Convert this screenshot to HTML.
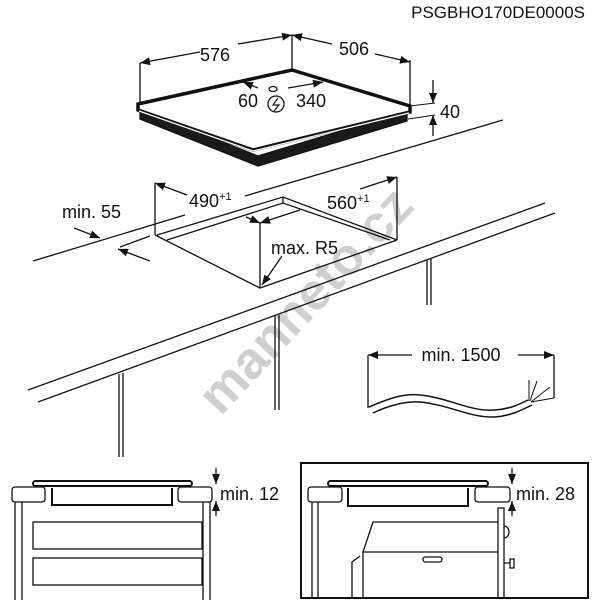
<!DOCTYPE html>
<html><head><meta charset="utf-8"><style>
html,body{margin:0;padding:0;background:#fff;}
svg{display:block;}
text{font-family:"Liberation Sans",sans-serif;fill:#111;}
</style></head><body>
<svg width="600" height="600" viewBox="0 0 600 600" xmlns="http://www.w3.org/2000/svg">
<defs>
<marker id="a" viewBox="0 0 10 10" refX="10" refY="5" markerWidth="10" markerHeight="10" orient="auto-start-reverse" markerUnits="userSpaceOnUse"><path d="M0,1 L10,5 L0,9 z" fill="#111"/></marker>
</defs>
<text x="585" y="18" font-size="17" text-anchor="end">PSGBHO170DE0000S</text>

<text x="305" y="318" font-size="52" font-weight="bold" text-anchor="middle" style="fill:#cfcfcf" transform="rotate(-47 305 300)">manneto.cz</text>

<g stroke="#111" fill="none" stroke-width="1.3">
<path d="M140,119 L258,166 L407,121 L407,111 L258,156 L140,109 Z" fill="#1a1a1a" stroke="#111"/>
<path d="M138,104 L292,70 L410,106 L410,112 L253,150 L138,110 Z" fill="#fff" stroke="#111" stroke-width="3.5"/>
<path d="M139,111 L253,151 L409,113" stroke="#fff" stroke-width="1.3"/>
<line x1="140" y1="63" x2="140" y2="104"/>
<line x1="292" y1="35" x2="292" y2="70"/>
<line x1="410" y1="60" x2="410" y2="106"/>
<line x1="200" y1="52" x2="140" y2="63" marker-end="url(#a)"/>
<line x1="238" y1="44" x2="292" y2="35" marker-end="url(#a)"/>
<line x1="332" y1="44" x2="292" y2="35" marker-end="url(#a)"/>
<line x1="375" y1="54" x2="410" y2="62" marker-end="url(#a)"/>
<line x1="258" y1="88" x2="243" y2="82" marker-end="url(#a)"/>
<line x1="288" y1="88" x2="323" y2="82" marker-end="url(#a)"/>
<ellipse cx="273" cy="89" rx="4" ry="2.5"/>
<circle cx="276" cy="104" r="8"/>
<path d="M278,98 L273,105 L279,105 L274,111" stroke-width="1.2"/>
<line x1="410" y1="106" x2="435" y2="103" stroke-width="1"/>
<line x1="408" y1="119" x2="435" y2="115" stroke-width="1"/>
<line x1="433" y1="80" x2="433" y2="103" marker-end="url(#a)"/>
<line x1="433" y1="136" x2="433" y2="115" marker-end="url(#a)"/>

<line x1="33" y1="261" x2="185" y2="215"/>
<line x1="245" y1="196" x2="503" y2="120"/>
<line x1="28" y1="390" x2="545" y2="203"/>
<line x1="38" y1="402" x2="555" y2="213"/>
<line x1="120" y1="247" x2="150" y2="236"/>
<line x1="155" y1="183" x2="155" y2="235"/>
<line x1="260" y1="223" x2="260" y2="288"/>
<line x1="397" y1="177" x2="397" y2="240"/>
<path d="M155,235 L260,288 L397,240"/>
<path d="M157,235 L283,197 L397,240"/>
<path d="M167,240 L283,203 L390,240"/>
<line x1="283" y1="197" x2="283" y2="203"/>
<line x1="187" y1="195" x2="155" y2="183" marker-end="url(#a)"/>
<line x1="246" y1="217" x2="260" y2="223" marker-end="url(#a)"/>
<line x1="300" y1="210" x2="260" y2="223" marker-end="url(#a)"/>
<line x1="360" y1="189" x2="397" y2="177" marker-end="url(#a)"/>
<line x1="282" y1="256" x2="262" y2="285" marker-end="url(#a)"/>
<line x1="74" y1="228" x2="100" y2="238" marker-end="url(#a)"/>
<line x1="150" y1="261" x2="118" y2="249" marker-end="url(#a)"/>
<line x1="119" y1="374" x2="119" y2="457"/><line x1="123" y1="373" x2="123" y2="457"/>
<line x1="275" y1="316" x2="275" y2="410"/><line x1="279" y1="315" x2="279" y2="410"/>
<line x1="427" y1="260" x2="427" y2="305"/><line x1="431" y1="259" x2="431" y2="305"/>

<line x1="368" y1="355" x2="368" y2="408"/>
<line x1="554" y1="355" x2="554" y2="398"/>
<line x1="412" y1="355" x2="368" y2="355" marker-end="url(#a)"/>
<line x1="518" y1="355" x2="554" y2="355" marker-end="url(#a)"/>
<path d="M369,407 C390,398 405,393 420,395 C450,398 470,412 495,410 C510,409 520,404 528,400" stroke-width="1.5"/>
<path d="M373,413 C390,405 405,401 420,402 C450,405 470,418 495,417 C510,416 522,410 532,405" stroke-width="1.5"/>
<path d="M529,401 L529,380 M530,401 L537,381 M531,402 L550,387 M531,402 L554,398" stroke-width="1"/>

<rect x="33" y="481" width="159" height="5" rx="2.5" stroke-width="2"/>
<rect x="12" y="487" width="33" height="15" rx="3"/>
<rect x="178" y="487" width="34" height="15" rx="3"/>
<path d="M52,488 L52,505 L172,505 L172,488" stroke-width="2"/>
<line x1="15" y1="502" x2="15" y2="600"/><line x1="22" y1="502" x2="22" y2="600"/>
<line x1="203" y1="502" x2="203" y2="600"/><line x1="210" y1="502" x2="210" y2="600"/>
<rect x="33" y="522" width="169" height="27"/>
<rect x="33" y="558" width="169" height="27"/>
<line x1="216" y1="468" x2="216" y2="484" marker-end="url(#a)"/>
<line x1="216" y1="516" x2="216" y2="501" marker-end="url(#a)"/>

<rect x="301" y="463" width="287" height="135" stroke-width="2"/>
<rect x="328" y="481" width="160" height="5" rx="2.5" stroke-width="2"/>
<rect x="308" y="487" width="34" height="15" rx="3"/>
<rect x="475" y="487" width="35" height="15" rx="3"/>
<path d="M348,488 L348,506 L468,506 L468,488" stroke-width="2"/>
<line x1="312" y1="502" x2="312" y2="598"/><line x1="318" y1="502" x2="318" y2="598"/>
<path d="M498,522 L373,522 L363,552 L498,552"/>
<path d="M363,552 L363,598"/>
<path d="M360,556 L352,562 L352,598"/>
<rect x="498" y="508" width="6" height="90"/>
<path d="M504,526 A5,6 0 0 1 504,538"/>
<rect x="423" y="557" width="19" height="5" rx="2.5"/>
<path d="M504,563 L510,563 M510,559 L514,559 L514,568 L510,568 Z"/>
<line x1="512" y1="468" x2="512" y2="484" marker-end="url(#a)"/>
<line x1="512" y1="516" x2="512" y2="501" marker-end="url(#a)"/>
</g>

<g font-size="18">
<text x="215" y="61" text-anchor="middle">576</text>
<text x="354" y="55" text-anchor="middle">506</text>
<text x="248" y="107" text-anchor="middle">60</text>
<text x="311" y="107" text-anchor="middle">340</text>
<text x="440" y="118">40</text>
<text x="189" y="207">490<tspan font-size="11" dy="-7">+1</tspan></text>
<text x="327" y="209">560<tspan font-size="11" dy="-7">+1</tspan></text>
<text x="271" y="254">max. R5</text>
<text x="62" y="218">min. 55</text>
<text x="461" y="361" text-anchor="middle">min. 1500</text>
<text x="220" y="500">min. 12</text>
<text x="516" y="500">min. 28</text>
</g>
</svg>
</body></html>
